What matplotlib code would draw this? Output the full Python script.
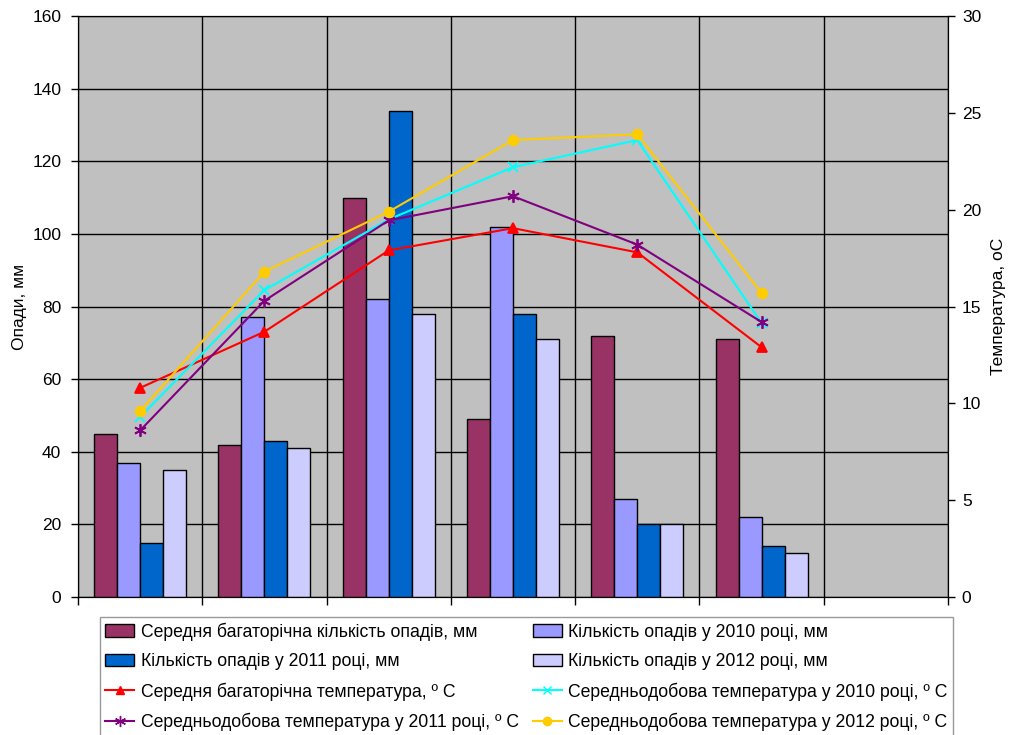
import numpy as np
import matplotlib
matplotlib.use('Agg')
import matplotlib.pyplot as plt
from matplotlib.patches import Patch
from matplotlib.lines import Line2D

plt.rcParams['font.family'] = ['Liberation Sans', 'DejaVu Sans']

n_cat = 7
# precipitation, mm (7th month slot is empty)
rain_avg = [45, 42, 110, 49, 72, 71]
rain_2010 = [37, 77, 82, 102, 27, 22]
rain_2011 = [15, 43, 134, 78, 20, 14]
rain_2012 = [35, 41, 78, 71, 20, 12]

# temperature, C
t_avg = [10.8, 13.7, 17.9, 19.05, 17.8, 12.9]
t_2010 = [9.3, 15.85, 19.5, 22.2, 23.6, 14.15]
t_2011 = [8.6, 15.3, 19.45, 20.7, 18.2, 14.2]
t_2012 = [9.6, 16.8, 19.9, 23.6, 23.9, 15.7]

bar_labels = ['Середня багаторічна кількість опадів, мм',
              'Кількість опадів у 2010 році, мм',
              'Кількість опадів у 2011 році, мм',
              'Кількість опадів у 2012 році, мм']
line_labels = ['Середня багаторічна температура, º С',
               'Середньодобова температура у 2010 році, º С',
               'Середньодобова температура у 2011 році, º С',
               'Середньодобова температура у 2012 році, º С']

bar_colors = ['#993366', '#9999ff', '#0066cc', '#ccccff']
line_colors = ['#ff0000', '#00ffff', '#800080', '#ffcc00']
line_markers = ['^', 'x', (6, 2, 0), 'o']
marker_sizes = [7, 7, 9, 7]

fig = plt.figure(figsize=(10.1, 7.35), dpi=100)
ax = fig.add_axes([0.0772, 0.1878, 0.8614, 0.7902])
ax.set_facecolor('#c0c0c0')

x = np.arange(len(rain_avg))
bw = 0.185
series = [rain_avg, rain_2010, rain_2011, rain_2012]
for i, vals in enumerate(series):
    ax.bar(x + (i - 1.5) * bw, vals, width=bw, color=bar_colors[i],
           edgecolor='black', linewidth=1.0, zorder=3)

ax.set_xlim(-0.5, n_cat - 0.5)
ax.set_ylim(0, 160)
ax.set_yticks(range(0, 161, 20))
ax.set_xticks(np.arange(-0.5, n_cat, 1.0))
ax.set_xticklabels([])
ax.tick_params(axis='x', length=6, width=1)
ax.tick_params(axis='y', length=5, width=1, labelsize=12.5, pad=7)
ax.grid(True, color='black', linewidth=1.0, zorder=0)
ax.set_axisbelow(True)
ax.set_ylabel('Опади, мм', fontsize=12.5, labelpad=4)
for s in ax.spines.values():
    s.set_color('black')

ax2 = ax.twinx()
temps = [t_avg, t_2010, t_2011, t_2012]
for i, vals in enumerate(temps):
    ax2.plot(x, vals, color=line_colors[i], marker=line_markers[i],
             markersize=marker_sizes[i], linewidth=1.5, markeredgewidth=1.3, zorder=4)
ax2.set_ylim(0, 30)
ax2.set_yticks(range(0, 31, 5))
ax2.tick_params(axis='y', length=5, width=1, labelsize=12.5, pad=5)
ax2.set_ylabel('Температура, оС', fontsize=12.5, labelpad=7)

handles = []
for i in range(4):
    handles.append(Patch(facecolor=bar_colors[i], edgecolor='black', label=bar_labels[i]))
for i in range(4):
    handles.append(Line2D([], [], color=line_colors[i], marker=line_markers[i],
                          markersize=marker_sizes[i] - 1, linewidth=1.5, label=line_labels[i]))
# two columns filled row by row
order = [0, 2, 4, 6, 1, 3, 5, 7]
leg = fig.legend([handles[k] for k in order], [handles[k].get_label() for k in order],
                 ncol=2, loc='upper left', bbox_to_anchor=(0.099, 0.1605),
                 fontsize=12.7, frameon=True, fancybox=False, edgecolor='#808080',
                 handlelength=1.65, handletextpad=0.35, columnspacing=0.8,
                 labelspacing=0.7, borderpad=0.3, borderaxespad=0)
leg.get_frame().set_linewidth(1.0)

fig.savefig('out.png', dpi=100)
